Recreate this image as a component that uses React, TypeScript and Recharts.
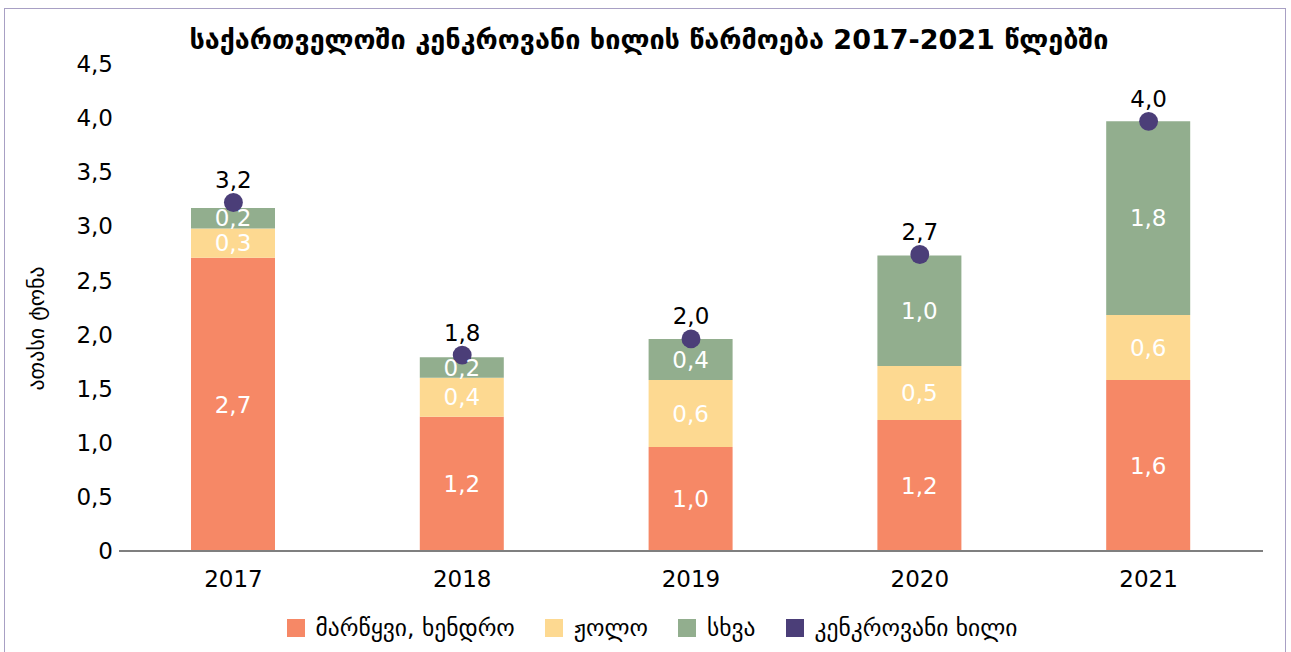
import React from "react";
import {
  ComposedChart,
  Bar,
  Scatter,
  XAxis,
  YAxis,
  ZAxis,
  Legend,
  LabelList,
} from "recharts";

const years = ["2017", "2018", "2019", "2020", "2021"];
const strawberry = [2.71, 1.24, 0.96, 1.21, 1.58];
const raspberry = [0.27, 0.36, 0.62, 0.5, 0.6];
const other = [0.19, 0.19, 0.38, 1.02, 1.79];
const totals = [3.22, 1.81, 1.96, 2.74, 3.97];
const yTicks = [0, 0.5, 1, 1.5, 2, 2.5, 3, 3.5, 4, 4.5];

const seriesNames = {
  strawberry: "მარწყვი, ხენდრო",
  raspberry: "ჟოლო",
  other: "სხვა",
  total: "კენკროვანი ხილი",
};
const legendOrder = [
  seriesNames.strawberry,
  seriesNames.raspberry,
  seriesNames.other,
  seriesNames.total,
];

const COLORS = {
  strawberry: "#f68866",
  raspberry: "#fdd991",
  other: "#92ae8e",
  total: "#4b3e78",
};

const data = years.map((y, i) => ({
  year: y,
  strawberry: strawberry[i],
  raspberry: raspberry[i],
  other: other[i],
  total: totals[i],
}));

const FONT = "'DejaVu Sans', sans-serif";

const fmt = (v: any) => {
  const n = Number(v);
  if (n === 0) return "0";
  return n.toFixed(1).replace(".", ",");
};

const LegendContent = (props: any) => {
  const payload = [...(props.payload || [])].sort(
    (a: any, b: any) => legendOrder.indexOf(a.value) - legendOrder.indexOf(b.value)
  );
  return (
    <div
      style={{
        height: 30,
        display: "flex",
        justifyContent: "center",
        alignItems: "center",
        paddingLeft: 36,
        fontFamily: FONT,
        fontSize: 23.5,
        color: "#000",
      }}
    >
      {payload.map((p: any, i: number) => (
        <div
          key={i}
          style={{
            display: "flex",
            alignItems: "center",
            marginRight: i < payload.length - 1 ? 30 : 0,
          }}
        >
          <span
            style={{
              width: 18,
              height: 18,
              background: p.color,
              display: "inline-block",
              marginRight: 11,
            }}
          />
          <span>{p.value}</span>
        </div>
      ))}
    </div>
  );
};

const YLabel = (props: any) => {
  const vb = props.viewBox || {};
  const x = vb.x + 31;
  const y = vb.y + vb.height / 2 + 21;
  return (
    <text
      x={x}
      y={y}
      transform={`rotate(-90, ${x}, ${y})`}
      textAnchor="middle"
      dominantBaseline="central"
      fontSize={22}
      fontFamily={FONT}
      fill="#000"
    >
      ათასი ტონა
    </text>
  );
};

export default function App() {
  return (
    <div
      style={{
        position: "absolute",
        left: 4,
        top: 8,
        width: 1280,
        height: 660,
        border: "1px solid #a8a0c4",
        background: "#fff",
        fontFamily: FONT,
      }}
    >
      <div
        style={{
          position: "absolute",
          left: 0,
          top: 15,
          width: 1280,
          paddingLeft: 8,
          boxSizing: "border-box",
          textAlign: "center",
          fontSize: 27,
          lineHeight: "32px",
          fontWeight: "bold",
          color: "#000",
          fontFamily: FONT,
          zIndex: 2,
        }}
      >
        საქართველოში კენკროვანი ხილის წარმოება 2017-2021 წლებში
      </div>
      <ComposedChart
        width={1280}
        height={639}
        data={data}
        margin={{ top: 55, right: 22, bottom: 5, left: 0 }}
      >
        <YAxis
          type="number"
          domain={[0, 4.5]}
          ticks={yTicks}
          interval={0}
          width={114}
          axisLine={false}
          tickLine={false}
          tickSize={0}
          tickMargin={6}
          tickFormatter={fmt}
          tick={{ fontSize: 23, fill: "#000", fontFamily: FONT }}
          label={{ content: YLabel }}
        />
        <ZAxis range={[280, 280]} />
        <Bar
          dataKey="strawberry"
          name={seriesNames.strawberry}
          stackId="a"
          fill={COLORS.strawberry}
          barSize={84}
          isAnimationActive={false}
        >
          <LabelList
            dataKey="strawberry"
            position="center"
            formatter={fmt}
            fill="#fff"
            fontSize={23}
            fontFamily={FONT}
          />
        </Bar>
        <Bar
          dataKey="raspberry"
          name={seriesNames.raspberry}
          stackId="a"
          fill={COLORS.raspberry}
          barSize={84}
          isAnimationActive={false}
        >
          <LabelList
            dataKey="raspberry"
            position="center"
            formatter={fmt}
            fill="#fff"
            fontSize={23}
            fontFamily={FONT}
          />
        </Bar>
        <Bar
          dataKey="other"
          name={seriesNames.other}
          stackId="a"
          fill={COLORS.other}
          barSize={84}
          isAnimationActive={false}
        >
          <LabelList
            dataKey="other"
            position="center"
            formatter={fmt}
            fill="#fff"
            fontSize={23}
            fontFamily={FONT}
          />
        </Bar>
        <Scatter
          dataKey="total"
          name={seriesNames.total}
          fill={COLORS.total}
          isAnimationActive={false}
        >
          <LabelList
            dataKey="total"
            position="top"
            offset={5}
            formatter={fmt}
            fill="#000"
            fontSize={23}
            fontFamily={FONT}
          />
        </Scatter>
        <XAxis
          dataKey="year"
          type="category"
          height={62}
          tickLine={false}
          tickSize={0}
          tickMargin={20}
          axisLine={{ stroke: "#7f7f7f", strokeWidth: 2 }}
          tick={{ fontSize: 23, fill: "#000", fontFamily: FONT }}
        />
        <Legend
          verticalAlign="bottom"
          align="center"
          content={<LegendContent />}
        />
      </ComposedChart>
    </div>
  );
}
